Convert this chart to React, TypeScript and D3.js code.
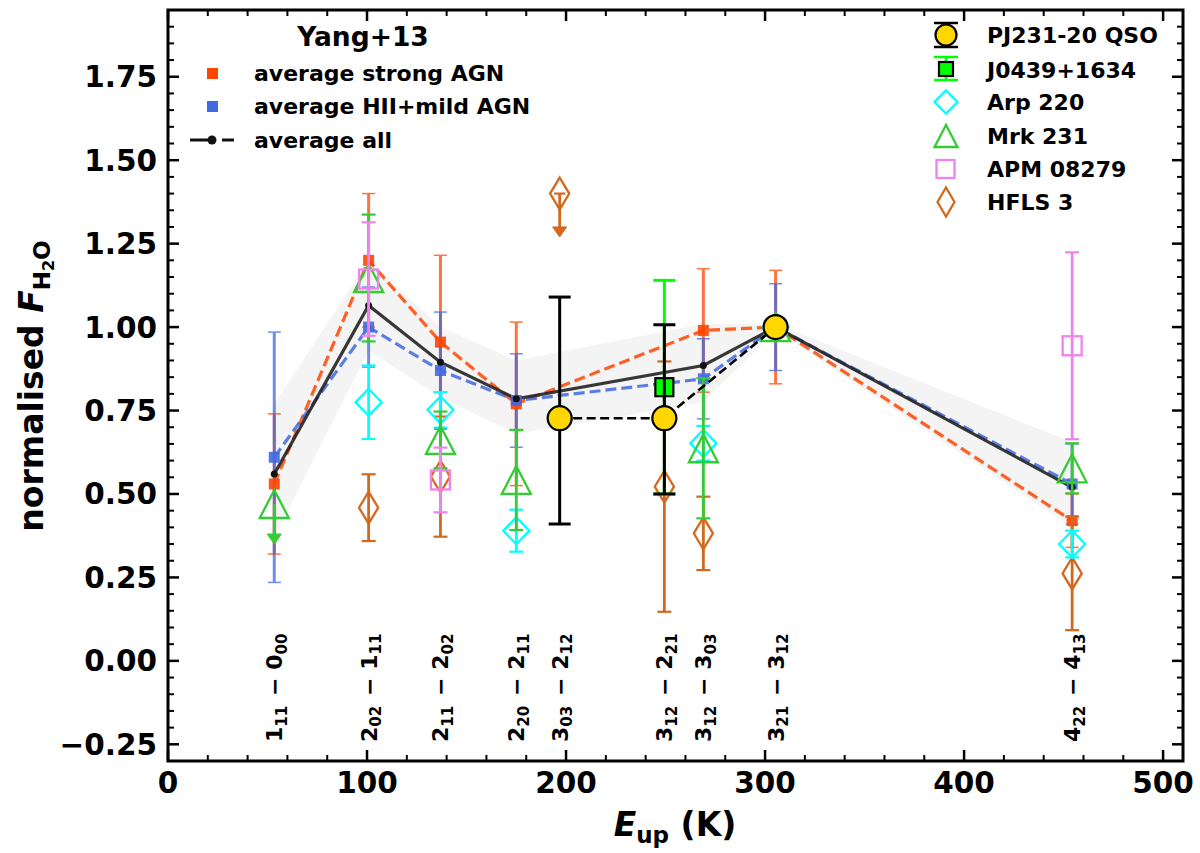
import React from "react";
import * as d3 from "d3";

// ---------- DATA ----------
const transE = [53.4, 100.8, 136.9, 175, 196.8, 249.4, 269, 305.3, 454.3];
const transLabels = [
  ["1", "11", "0", "00"],
  ["2", "02", "1", "11"],
  ["2", "11", "2", "02"],
  ["2", "20", "2", "11"],
  ["3", "03", "2", "12"],
  ["3", "12", "2", "21"],
  ["3", "12", "3", "03"],
  ["3", "21", "3", "12"],
  ["4", "22", "4", "13"],
];

const avgE = [53.4, 100.8, 136.9, 175, 269, 305.3, 454.3];
const strongVal = [0.53, 1.2, 0.955, 0.77, 0.99, 1.0, 0.42];
const strongErr = [0.21, 0.2, 0.26, 0.245, 0.185, 0.17, 0.08];
const hiiVal = [0.61, 1.0, 0.87, 0.78, 0.845, 1.0, 0.53];
const hiiErr = [0.375, 0.12, 0.175, 0.14, 0.12, 0.13, 0.12];
const allVal = [0.56, 1.065, 0.895, 0.785, 0.885, 1.0, 0.52];
const bandLo = [0.37, 0.93, 0.79, 0.68, 0.775, 0.99, 0.4];
const bandHi = [0.77, 1.2, 1.0, 0.9, 1.01, 1.01, 0.655];

const pjE = [196.8, 249.4, 305.3];
const pjVal = [0.727, 0.727, 1.0];
const pjErrLo = [0.317, 0.227, 0];
const pjErrHi = [0.363, 0.28, 0];

const j0439E = [249.4];
const j0439Val = [0.82];
const j0439Err = [0.32];

const arpE = [100.8, 136.9, 175, 269, 305.3, 454.3];
const arpVal = [0.775, 0.752, 0.39, 0.652, 1.0, 0.35];
const arpErr = [0.11, 0.053, 0.063, 0.052, 0, 0.04];

const mrkE = [100.8, 136.9, 175, 269, 305.3, 454.3];
const mrkVal = [1.147, 0.662, 0.542, 0.637, 1.0, 0.577];
const mrkErr = [0.19, 0.085, 0.15, 0.21, 0, 0.075];
const mrkLimE = [53.4];
const mrkLimVal = [0.47];
const mrkLimTip = [0.35];

const apmE = [100.8, 136.9, 454.3];
const apmVal = [1.144, 0.542, 0.944];
const apmErr = [0.17, 0.097, 0.28];

const hflsE = [100.8, 136.9, 249.4, 269, 454.3];
const hflsVal = [0.459, 0.552, 0.522, 0.382, 0.262];
const hflsErr = [0.1, 0.18, 0.375, 0.11, 0.17];
const hflsLimE = [196.8];
const hflsLimVal = [1.4];
const hflsLimTip = [1.27];

const xTicks = [0, 100, 200, 300, 400, 500];
const yTicks = [-0.25, 0, 0.25, 0.5, 0.75, 1.0, 1.25, 1.5, 1.75];

// ---------- STYLE ----------
const W = 1200;
const H = 853;
const M = { left: 168, right: 1183, top: 10, bottom: 761 };
const FONT = "'DejaVu Sans', sans-serif";
const C_STRONG = "#FF4500";
const C_HII = "#4169E1";
const C_ARP = "#00FFFF";
const C_MRK = "#32CD32";
const C_APM = "#EE82EE";
const C_HFLS = "#D2691E";
const C_J = "#00FF00";
const C_PJ = "#FFD700";

const x = d3.scaleLinear().domain([0, 510]).range([M.left, M.right]);
const y = d3.scaleLinear().domain([-0.3, 1.95]).range([M.bottom, M.top]);

function ErrBar({ cx, v, e, eHi, color, cap, sw = 2.8, capW = 2.2, opacity = 1 }) {
  const hi = eHi === undefined ? e : eHi;
  if (!e && !hi) return null;
  const X = x(cx);
  const y1 = y(v - e);
  const y2 = y(v + hi);
  return (
    <g stroke={color} opacity={opacity}>
      <line x1={X} x2={X} y1={y1} y2={y2} strokeWidth={sw} />
      <line x1={X - cap / 2} x2={X + cap / 2} y1={y1} y2={y1} strokeWidth={capW} />
      <line x1={X - cap / 2} x2={X + cap / 2} y1={y2} y2={y2} strokeWidth={capW} />
    </g>
  );
}

function LimArrow({ cx, v, tip, color, capTop = false }) {
  const X = x(cx);
  const yv = y(v);
  const yt = y(tip);
  return (
    <g>
      <line x1={X} x2={X} y1={yv} y2={yt - 9} stroke={color} strokeWidth={2.8} />
      {capTop && (
        <line x1={X - 5.5} x2={X + 5.5} y1={yv} y2={yv} stroke={color} strokeWidth={2.2} />
      )}
      <path d={`M${X - 7},${yt - 10} L${X + 7},${yt - 10} L${X},${yt} Z`} fill={color} stroke={color} strokeWidth={1} />
    </g>
  );
}

const diamondPath = (X, Y, hw, hh) => `M${X},${Y - hh} L${X + hw},${Y} L${X},${Y + hh} L${X - hw},${Y} Z`;
const triPath = (X, Y, hw, hh) => `M${X},${Y - hh} L${X + hw},${Y + hh} L${X - hw},${Y + hh} Z`;

function Sub({ main, sub, size, subSize }) {
  return (
    <>
      <tspan fontSize={size}>{main}</tspan>
      <tspan fontSize={subSize} dy={size * 0.22}>{sub}</tspan>
      <tspan dy={-size * 0.22} fontSize={size}>{"\u200A"}</tspan>
    </>
  );
}

export default function App() {
  const strongLine = d3.line().x((d, i) => x(avgE[i])).y((d) => y(d));
  const areaGen = d3
    .area()
    .x((d, i) => x(avgE[i]))
    .y0((d, i) => y(bandLo[i]))
    .y1((d, i) => y(bandHi[i]));

  const xMinor = d3.range(0, 511, 20).filter((v) => v % 100 !== 0);
  const yMinor = d3.range(-0.3, 1.951, 0.05).map((v) => Math.round(v * 100) / 100).filter((v) => Math.abs((v * 4) - Math.round(v * 4)) > 1e-6);

  return (
    <svg width={W} height={H} style={{ position: "absolute", left: 0, top: 0, background: "white" }} fontFamily={FONT}>
      <rect x={0} y={0} width={W} height={H} fill="white" />
      {/* band */}
      <path d={areaGen(allVal)} fill="#ececec" opacity={0.6} />

      {/* average error bars */}
      {avgE.map((e, i) => (
        <ErrBar key={"se" + i} cx={e} v={strongVal[i]} e={strongErr[i]} color={C_STRONG} cap={13} sw={3} capW={1.5} opacity={0.75} />
      ))}
      {avgE.map((e, i) => (
        <ErrBar key={"he" + i} cx={e} v={hiiVal[i]} e={hiiErr[i]} color={C_HII} cap={13} sw={3} capW={1.5} opacity={0.75} />
      ))}

      {/* average lines */}
      <path d={strongLine(strongVal)} fill="none" stroke={C_STRONG} strokeWidth={3.2} strokeDasharray="11,5" opacity={0.85} />
      <path d={strongLine(hiiVal)} fill="none" stroke={C_HII} strokeWidth={3.2} strokeDasharray="11,5" opacity={0.85} />
      <path d={strongLine(allVal)} fill="none" stroke="#222" strokeWidth={3.2} opacity={0.9} />
      {avgE.map((e, i) => (
        <rect key={"sm" + i} x={x(e) - 5.5} y={y(strongVal[i]) - 5.5} width={11} height={11} fill={C_STRONG} opacity={0.9} />
      ))}
      {avgE.map((e, i) => (
        <rect key={"hm" + i} x={x(e) - 5.5} y={y(hiiVal[i]) - 5.5} width={11} height={11} fill={C_HII} opacity={0.9} />
      ))}
      {avgE.map((e, i) => (
        <circle key={"am" + i} cx={x(e)} cy={y(allVal[i])} r={3.5} fill="#111" />
      ))}

      {/* HFLS 3 */}
      {hflsE.map((e, i) => (
        <ErrBar key={"hf" + i} cx={e} v={hflsVal[i]} e={hflsErr[i]} color={C_HFLS} cap={14} />
      ))}
      {hflsLimE.map((e, i) => (
        <LimArrow key={"hfl" + i} cx={e} v={hflsLimVal[i]} tip={hflsLimTip[i]} color={C_HFLS} capTop />
      ))}
      {[...hflsE, ...hflsLimE].map((e, i) => {
        const v = [...hflsVal, ...hflsLimVal][i];
        return <path key={"hfm" + i} d={diamondPath(x(e), y(v), 9.6, 16)} fill="none" stroke={C_HFLS} strokeWidth={2.3} />;
      })}

      {/* Arp 220 */}
      {arpE.map((e, i) => (
        <ErrBar key={"ar" + i} cx={e} v={arpVal[i]} e={arpErr[i]} color={C_ARP} cap={14} />
      ))}
      {arpE.map((e, i) => (
        <path key={"arm" + i} d={diamondPath(x(e), y(arpVal[i]), 13, 13.5)} fill="none" stroke={C_ARP} strokeWidth={2.3} />
      ))}

      {/* Mrk 231 */}
      {mrkE.map((e, i) => (
        <ErrBar key={"mk" + i} cx={e} v={mrkVal[i]} e={mrkErr[i]} color={C_MRK} cap={14} />
      ))}
      {mrkLimE.map((e, i) => (
        <LimArrow key={"mkl" + i} cx={e} v={mrkLimVal[i]} tip={mrkLimTip[i]} color={C_MRK} />
      ))}
      {[...mrkE, ...mrkLimE].map((e, i) => {
        const v = [...mrkVal, ...mrkLimVal][i];
        return <path key={"mkm" + i} d={triPath(x(e), y(v), 14.5, 14)} fill="none" stroke={C_MRK} strokeWidth={2.3} />;
      })}

      {/* APM 08279 */}
      {apmE.map((e, i) => (
        <ErrBar key={"ap" + i} cx={e} v={apmVal[i]} e={apmErr[i]} color={C_APM} cap={14} />
      ))}
      {apmE.map((e, i) => (
        <rect key={"apm" + i} x={x(e) - 9.5} y={y(apmVal[i]) - 9.5} width={19} height={19} fill="none" stroke={C_APM} strokeWidth={2.3} />
      ))}

      {/* J0439 */}
      {j0439E.map((e, i) => (
        <ErrBar key={"j" + i} cx={e} v={j0439Val[i]} e={j0439Err[i]} color={C_J} cap={22} sw={3} capW={3} />
      ))}
      {j0439E.map((e, i) => (
        <rect key={"jm" + i} x={x(e) - 9} y={y(j0439Val[i]) - 9} width={18} height={18} fill={C_J} stroke="#000" strokeWidth={2.2} />
      ))}

      {/* PJ231-20 */}
      {pjE.map((e, i) => (
        <ErrBar key={"pj" + i} cx={e} v={pjVal[i]} e={pjErrLo[i]} eHi={pjErrHi[i]} color="#000" cap={22} sw={3} capW={3} />
      ))}
      <path d={d3.line().x((d, i) => x(pjE[i])).y((d) => y(d))(pjVal)} fill="none" stroke="#000" strokeWidth={2.6} strokeDasharray="9,4.5" />
      {pjE.map((e, i) => (
        <circle key={"pjm" + i} cx={x(e)} cy={y(pjVal[i])} r={12} fill={C_PJ} stroke="#000" strokeWidth={2.2} />
      ))}

      {/* transition labels */}
      {transE.map((e, i) => {
        const [a, as, b, bs] = transLabels[i];
        const X = x(e) + 8;
        const Y = 742;
        return (
          <text key={"tl" + i} x={X} y={Y} transform={`rotate(-90,${X},${Y})`} fontWeight="bold" fontSize={22} fill="#000">
            <Sub main={a} sub={as} size={22} subSize={15} />
            <tspan fontSize={22}>{" \u2212 "}</tspan>
            <Sub main={b} sub={bs} size={22} subSize={15} />
          </text>
        );
      })}

      {/* axes frame */}
      <rect x={M.left} y={M.top} width={M.right - M.left} height={M.bottom - M.top} fill="none" stroke="#000" strokeWidth={3} />
      {/* x ticks */}
      {xTicks.map((t) => (
        <g key={"xt" + t} stroke="#000" strokeWidth={2.5}>
          <line x1={x(t)} x2={x(t)} y1={M.bottom} y2={M.bottom - 11} />
          <line x1={x(t)} x2={x(t)} y1={M.top} y2={M.top + 11} />
        </g>
      ))}
      {xMinor.map((t) => (
        <g key={"xm" + t} stroke="#000" strokeWidth={2}>
          <line x1={x(t)} x2={x(t)} y1={M.bottom} y2={M.bottom - 6} />
          <line x1={x(t)} x2={x(t)} y1={M.top} y2={M.top + 6} />
        </g>
      ))}
      {yTicks.map((t) => (
        <g key={"yt" + t} stroke="#000" strokeWidth={2.5}>
          <line x1={M.left} x2={M.left + 11} y1={y(t)} y2={y(t)} />
          <line x1={M.right} x2={M.right - 11} y1={y(t)} y2={y(t)} />
        </g>
      ))}
      {yMinor.map((t) => (
        <g key={"ym" + t} stroke="#000" strokeWidth={2}>
          <line x1={M.left} x2={M.left + 6} y1={y(t)} y2={y(t)} />
          <line x1={M.right} x2={M.right - 6} y1={y(t)} y2={y(t)} />
        </g>
      ))}
      {xTicks.map((t) => (
        <text key={"xl" + t} x={x(t)} y={793} textAnchor="middle" fontWeight="bold" fontSize={29.5}>
          {t}
        </text>
      ))}
      {yTicks.map((t) => (
        <text key={"yl" + t} x={157} y={y(t) + 10.5} textAnchor="end" fontWeight="bold" fontSize={29.5}>
          {t < 0 ? "\u2212" + Math.abs(t).toFixed(2) : t.toFixed(2)}
        </text>
      ))}

      {/* axis labels */}
      <text x={675} y={836} textAnchor="middle" fontWeight="bold" fontSize={33}>
        <tspan fontStyle="italic">E</tspan>
        <tspan fontSize={23} dy={7}>up</tspan>
        <tspan dy={-7}>{" (K)"}</tspan>
      </text>
      <text x={43} y={386} transform="rotate(-90,43,386)" textAnchor="middle" fontWeight="bold" fontSize={33}>
        normalised <tspan fontStyle="italic">F</tspan>
        <tspan fontSize={23} dy={7}>H</tspan>
        <tspan fontSize={16} dy={4}>2</tspan>
        <tspan fontSize={23} dy={-4}>O</tspan>
      </text>

      {/* left legend */}
      <text x={363} y={46} textAnchor="middle" fontWeight="bold" fontSize={26.5}>Yang+13</text>
      <rect x={207} y={68} width={11} height={11} fill={C_STRONG} />
      <text x={254} y={81} fontWeight="bold" fontSize={22}>average strong AGN</text>
      <rect x={207} y={101} width={11} height={11} fill={C_HII} />
      <text x={254} y={114} fontWeight="bold" fontSize={22}>average HII+mild AGN</text>
      <line x1={190} x2={210} y1={140} y2={140} stroke="#111" strokeWidth={3} />
      <circle cx={212} cy={140} r={4.5} fill="#111" />
      <line x1={222} x2={234} y1={140} y2={140} stroke="#111" strokeWidth={3} />
      <text x={254} y={148} fontWeight="bold" fontSize={22}>average all</text>

      {/* right legend */}
      <g>
        <line x1={946} x2={946} y1={23} y2={47} stroke="#000" strokeWidth={2.5} />
        <line x1={934} x2={958} y1={23} y2={23} stroke="#000" strokeWidth={2.5} />
        <line x1={934} x2={958} y1={47} y2={47} stroke="#000" strokeWidth={2.5} />
        <circle cx={946} cy={35} r={10.5} fill={C_PJ} stroke="#000" strokeWidth={2.2} />
        <text x={987} y={43} fontWeight="bold" fontSize={22}>PJ231-20 QSO</text>

        <line x1={946} x2={946} y1={57} y2={80} stroke={C_J} strokeWidth={2.5} />
        <line x1={934} x2={958} y1={57} y2={57} stroke={C_J} strokeWidth={2.5} />
        <line x1={934} x2={958} y1={80} y2={80} stroke={C_J} strokeWidth={2.5} />
        <rect x={939} y={62} width={14} height={14} fill={C_J} stroke="#000" strokeWidth={2.2} />
        <text x={987} y={78} fontWeight="bold" fontSize={22}>J0439+1634</text>

        <path d={diamondPath(946, 102, 11.5, 11.5)} fill="none" stroke={C_ARP} strokeWidth={2.3} />
        <text x={987} y={110} fontWeight="bold" fontSize={22}>Arp 220</text>

        <path d={triPath(946, 136, 11.5, 11)} fill="none" stroke={C_MRK} strokeWidth={2.3} />
        <text x={987} y={144} fontWeight="bold" fontSize={22}>Mrk 231</text>

        <rect x={936.5} y={160} width={18} height={18} fill="none" stroke={C_APM} strokeWidth={2.3} />
        <text x={987} y={177} fontWeight="bold" fontSize={22}>APM 08279</text>

        <path d={diamondPath(946, 202, 8.5, 14.5)} fill="none" stroke={C_HFLS} strokeWidth={2.3} />
        <text x={987} y={210} fontWeight="bold" fontSize={22}>HFLS 3</text>
      </g>
    </svg>
  );
}
